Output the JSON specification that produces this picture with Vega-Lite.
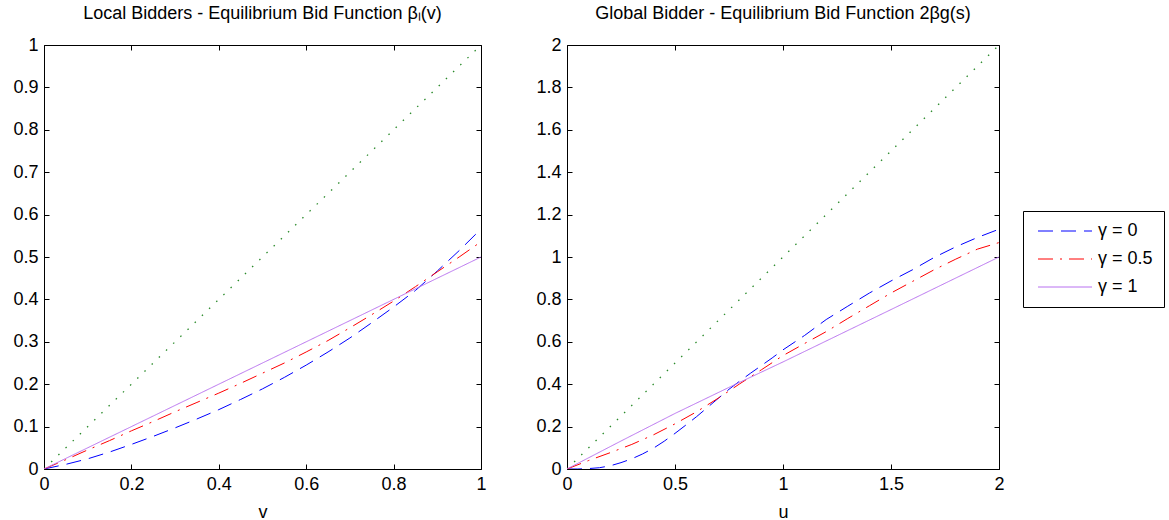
{
  "$schema": "https://vega.github.io/schema/vega-lite/v6.json",
  "padding": {"left": 12, "top": 4, "right": 5, "bottom": 0},
  "background": "#ffffff",
  "datasets": {
    "diag": [
      {"p": "L", "x": 0, "y": 0}, {"p": "L", "x": 1, "y": 1},
      {"p": "G", "x": 0, "y": 0}, {"p": "G", "x": 2, "y": 2}
    ],
    "curves": [
      {"p": "L", "s": "γ = 0", "x": 0, "y": 0},
      {"p": "L", "s": "γ = 0", "x": 0.05, "y": 0.011},
      {"p": "L", "s": "γ = 0", "x": 0.1, "y": 0.024},
      {"p": "L", "s": "γ = 0", "x": 0.15, "y": 0.04},
      {"p": "L", "s": "γ = 0", "x": 0.2, "y": 0.058},
      {"p": "L", "s": "γ = 0", "x": 0.25, "y": 0.077},
      {"p": "L", "s": "γ = 0", "x": 0.3, "y": 0.097},
      {"p": "L", "s": "γ = 0", "x": 0.35, "y": 0.118},
      {"p": "L", "s": "γ = 0", "x": 0.4, "y": 0.14},
      {"p": "L", "s": "γ = 0", "x": 0.45, "y": 0.164},
      {"p": "L", "s": "γ = 0", "x": 0.5, "y": 0.189},
      {"p": "L", "s": "γ = 0", "x": 0.55, "y": 0.216},
      {"p": "L", "s": "γ = 0", "x": 0.6, "y": 0.245},
      {"p": "L", "s": "γ = 0", "x": 0.65, "y": 0.276},
      {"p": "L", "s": "γ = 0", "x": 0.7, "y": 0.309},
      {"p": "L", "s": "γ = 0", "x": 0.75, "y": 0.345},
      {"p": "L", "s": "γ = 0", "x": 0.8, "y": 0.382},
      {"p": "L", "s": "γ = 0", "x": 0.85, "y": 0.421},
      {"p": "L", "s": "γ = 0", "x": 0.9, "y": 0.467},
      {"p": "L", "s": "γ = 0", "x": 0.95, "y": 0.515},
      {"p": "L", "s": "γ = 0", "x": 1, "y": 0.566},
      {"p": "L", "s": "γ = 0.5", "x": 0, "y": 0},
      {"p": "L", "s": "γ = 0.5", "x": 0.05, "y": 0.022},
      {"p": "L", "s": "γ = 0.5", "x": 0.1, "y": 0.045},
      {"p": "L", "s": "γ = 0.5", "x": 0.15, "y": 0.067},
      {"p": "L", "s": "γ = 0.5", "x": 0.2, "y": 0.09},
      {"p": "L", "s": "γ = 0.5", "x": 0.25, "y": 0.112},
      {"p": "L", "s": "γ = 0.5", "x": 0.3, "y": 0.135},
      {"p": "L", "s": "γ = 0.5", "x": 0.35, "y": 0.157},
      {"p": "L", "s": "γ = 0.5", "x": 0.4, "y": 0.179},
      {"p": "L", "s": "γ = 0.5", "x": 0.45, "y": 0.202},
      {"p": "L", "s": "γ = 0.5", "x": 0.5, "y": 0.226},
      {"p": "L", "s": "γ = 0.5", "x": 0.55, "y": 0.25},
      {"p": "L", "s": "γ = 0.5", "x": 0.6, "y": 0.276},
      {"p": "L", "s": "γ = 0.5", "x": 0.65, "y": 0.303},
      {"p": "L", "s": "γ = 0.5", "x": 0.7, "y": 0.333},
      {"p": "L", "s": "γ = 0.5", "x": 0.75, "y": 0.364},
      {"p": "L", "s": "γ = 0.5", "x": 0.8, "y": 0.396},
      {"p": "L", "s": "γ = 0.5", "x": 0.85, "y": 0.43},
      {"p": "L", "s": "γ = 0.5", "x": 0.9, "y": 0.465},
      {"p": "L", "s": "γ = 0.5", "x": 0.95, "y": 0.5},
      {"p": "L", "s": "γ = 0.5", "x": 1, "y": 0.536},
      {"p": "L", "s": "γ = 1", "x": 0, "y": 0},
      {"p": "L", "s": "γ = 1", "x": 0.25, "y": 0.125},
      {"p": "L", "s": "γ = 1", "x": 0.5, "y": 0.25},
      {"p": "L", "s": "γ = 1", "x": 0.75, "y": 0.375},
      {"p": "L", "s": "γ = 1", "x": 1, "y": 0.5},
      {"p": "G", "s": "γ = 0", "x": 0, "y": 0},
      {"p": "G", "s": "γ = 0", "x": 0.05, "y": 0},
      {"p": "G", "s": "γ = 0", "x": 0.1, "y": 0.002},
      {"p": "G", "s": "γ = 0", "x": 0.15, "y": 0.006},
      {"p": "G", "s": "γ = 0", "x": 0.2, "y": 0.015},
      {"p": "G", "s": "γ = 0", "x": 0.25, "y": 0.03},
      {"p": "G", "s": "γ = 0", "x": 0.3, "y": 0.048},
      {"p": "G", "s": "γ = 0", "x": 0.35, "y": 0.071},
      {"p": "G", "s": "γ = 0", "x": 0.4, "y": 0.098},
      {"p": "G", "s": "γ = 0", "x": 0.45, "y": 0.131},
      {"p": "G", "s": "γ = 0", "x": 0.5, "y": 0.168},
      {"p": "G", "s": "γ = 0", "x": 0.55, "y": 0.207},
      {"p": "G", "s": "γ = 0", "x": 0.6, "y": 0.247},
      {"p": "G", "s": "γ = 0", "x": 0.65, "y": 0.29},
      {"p": "G", "s": "γ = 0", "x": 0.7, "y": 0.333},
      {"p": "G", "s": "γ = 0", "x": 0.75, "y": 0.376},
      {"p": "G", "s": "γ = 0", "x": 0.8, "y": 0.415},
      {"p": "G", "s": "γ = 0", "x": 0.85, "y": 0.452},
      {"p": "G", "s": "γ = 0", "x": 0.9, "y": 0.488},
      {"p": "G", "s": "γ = 0", "x": 0.95, "y": 0.524},
      {"p": "G", "s": "γ = 0", "x": 1, "y": 0.562},
      {"p": "G", "s": "γ = 0", "x": 1.1, "y": 0.63},
      {"p": "G", "s": "γ = 0", "x": 1.2, "y": 0.705},
      {"p": "G", "s": "γ = 0", "x": 1.3, "y": 0.768},
      {"p": "G", "s": "γ = 0", "x": 1.4, "y": 0.83},
      {"p": "G", "s": "γ = 0", "x": 1.5, "y": 0.887},
      {"p": "G", "s": "γ = 0", "x": 1.6, "y": 0.94},
      {"p": "G", "s": "γ = 0", "x": 1.7, "y": 0.998},
      {"p": "G", "s": "γ = 0", "x": 1.8, "y": 1.048},
      {"p": "G", "s": "γ = 0", "x": 1.9, "y": 1.092},
      {"p": "G", "s": "γ = 0", "x": 2, "y": 1.131},
      {"p": "G", "s": "γ = 0.5", "x": 0, "y": 0},
      {"p": "G", "s": "γ = 0.5", "x": 0.1, "y": 0.04},
      {"p": "G", "s": "γ = 0.5", "x": 0.2, "y": 0.077},
      {"p": "G", "s": "γ = 0.5", "x": 0.3, "y": 0.116},
      {"p": "G", "s": "γ = 0.5", "x": 0.4, "y": 0.161},
      {"p": "G", "s": "γ = 0.5", "x": 0.5, "y": 0.213},
      {"p": "G", "s": "γ = 0.5", "x": 0.6, "y": 0.27},
      {"p": "G", "s": "γ = 0.5", "x": 0.7, "y": 0.334},
      {"p": "G", "s": "γ = 0.5", "x": 0.8, "y": 0.402},
      {"p": "G", "s": "γ = 0.5", "x": 0.9, "y": 0.468},
      {"p": "G", "s": "γ = 0.5", "x": 1, "y": 0.535},
      {"p": "G", "s": "γ = 0.5", "x": 1.1, "y": 0.592},
      {"p": "G", "s": "γ = 0.5", "x": 1.2, "y": 0.648},
      {"p": "G", "s": "γ = 0.5", "x": 1.3, "y": 0.71},
      {"p": "G", "s": "γ = 0.5", "x": 1.4, "y": 0.77},
      {"p": "G", "s": "γ = 0.5", "x": 1.5, "y": 0.83},
      {"p": "G", "s": "γ = 0.5", "x": 1.6, "y": 0.885},
      {"p": "G", "s": "γ = 0.5", "x": 1.7, "y": 0.94},
      {"p": "G", "s": "γ = 0.5", "x": 1.8, "y": 0.99},
      {"p": "G", "s": "γ = 0.5", "x": 1.9, "y": 1.037},
      {"p": "G", "s": "γ = 0.5", "x": 2, "y": 1.068},
      {"p": "G", "s": "γ = 1", "x": 0, "y": 0},
      {"p": "G", "s": "γ = 1", "x": 0.25, "y": 0.132},
      {"p": "G", "s": "γ = 1", "x": 0.5, "y": 0.262},
      {"p": "G", "s": "γ = 1", "x": 0.75, "y": 0.385},
      {"p": "G", "s": "γ = 1", "x": 1, "y": 0.505},
      {"p": "G", "s": "γ = 1", "x": 1.5, "y": 0.752},
      {"p": "G", "s": "γ = 1", "x": 2, "y": 1}
    ]
  },
  "spacing": 86,
  "bounds": "flush",
  "resolve": {
    "scale": {"x": "independent", "y": "independent", "color": "shared", "strokeDash": "shared"},
    "legend": {"color": "shared", "strokeDash": "shared"}
  },
  "hconcat": [
    {
      "width": 437,
      "height": 424,
      "title": {"text": "Local Bidders - Equilibrium Bid Function βₗ(v)", "baseline": "alphabetic", "offset": -1},
      "resolve": {"axis": {"x": "independent", "y": "independent"}},
      "layer": [
        {
          "data": {"name": "diag"},
          "transform": [{"filter": "datum.p === 'L'"}],
          "mark": {"type": "line", "color": "#2a8a2a", "strokeDash": [1.5, 8.5], "strokeWidth": 1.3, "clip": true},
          "encoding": {
            "x": {"field": "x", "type": "quantitative", "scale": {"domain": [0, 1], "nice": false, "zero": false},
                  "axis": {"orient": "bottom", "title": "v", "values": [0, 0.2, 0.4, 0.6, 0.8, 1], "format": "~g", "labelPadding": 11}},
            "y": {"field": "y", "type": "quantitative", "scale": {"domain": [0, 1], "nice": false, "zero": false},
                  "axis": {"orient": "left", "title": null, "values": [0, 0.1, 0.2, 0.3, 0.4, 0.5, 0.6, 0.7, 0.8, 0.9, 1], "format": "~g"}}
          }
        },
        {
          "data": {"name": "curves"},
          "transform": [{"filter": "datum.p === 'L'"}],
          "mark": {"type": "line", "strokeWidth": 1, "clip": true},
          "encoding": {
            "x": {"field": "x", "type": "quantitative", "axis": null},
            "y": {"field": "y", "type": "quantitative", "axis": null},
            "color": {"field": "s", "type": "nominal",
                      "scale": {"domain": ["γ = 0", "γ = 0.5", "γ = 1"], "range": ["#0000ff", "#ff0000", "#b870f0"]},
                      "legend": {"title": null}},
            "strokeDash": {"field": "s", "type": "nominal",
                      "scale": {"domain": ["γ = 0", "γ = 0.5", "γ = 1"], "range": [[15, 8], [15, 7, 2, 7], [1, 0]]},
                      "legend": {"title": null}}
          }
        },
        {
          "data": {"name": "diag"},
          "transform": [{"filter": "datum.p === 'L'"}],
          "mark": {"type": "line", "opacity": 0},
          "encoding": {
            "x": {"field": "x", "type": "quantitative",
                  "axis": {"orient": "top", "title": null, "labels": false, "values": [0, 0.2, 0.4, 0.6, 0.8, 1]}},
            "y": {"field": "y", "type": "quantitative",
                  "axis": {"orient": "right", "title": null, "labels": false, "values": [0, 0.1, 0.2, 0.3, 0.4, 0.5, 0.6, 0.7, 0.8, 0.9, 1]}}
          }
        }
      ]
    },
    {
      "width": 432,
      "height": 424,
      "title": {"text": "Global Bidder - Equilibrium Bid Function 2βg(s)", "baseline": "alphabetic", "offset": -1},
      "resolve": {"axis": {"x": "independent", "y": "independent"}},
      "layer": [
        {
          "data": {"name": "diag"},
          "transform": [{"filter": "datum.p === 'G'"}],
          "mark": {"type": "line", "color": "#2a8a2a", "strokeDash": [1.5, 8.5], "strokeWidth": 1.3, "clip": true},
          "encoding": {
            "x": {"field": "x", "type": "quantitative", "scale": {"domain": [0, 2], "nice": false, "zero": false},
                  "axis": {"orient": "bottom", "title": "u", "values": [0, 0.5, 1, 1.5, 2], "format": "~g", "labelPadding": 11}},
            "y": {"field": "y", "type": "quantitative", "scale": {"domain": [0, 2], "nice": false, "zero": false},
                  "axis": {"orient": "left", "title": null, "values": [0, 0.2, 0.4, 0.6, 0.8, 1, 1.2, 1.4, 1.6, 1.8, 2], "format": "~g"}}
          }
        },
        {
          "data": {"name": "curves"},
          "transform": [{"filter": "datum.p === 'G'"}],
          "mark": {"type": "line", "strokeWidth": 1, "clip": true},
          "encoding": {
            "x": {"field": "x", "type": "quantitative", "axis": null},
            "y": {"field": "y", "type": "quantitative", "axis": null},
            "color": {"field": "s", "type": "nominal",
                      "scale": {"domain": ["γ = 0", "γ = 0.5", "γ = 1"], "range": ["#0000ff", "#ff0000", "#b870f0"]},
                      "legend": {"title": null}},
            "strokeDash": {"field": "s", "type": "nominal",
                      "scale": {"domain": ["γ = 0", "γ = 0.5", "γ = 1"], "range": [[15, 8], [15, 7, 2, 7], [1, 0]]},
                      "legend": {"title": null}}
          }
        },
        {
          "data": {"name": "diag"},
          "transform": [{"filter": "datum.p === 'G'"}],
          "mark": {"type": "line", "opacity": 0},
          "encoding": {
            "x": {"field": "x", "type": "quantitative",
                  "axis": {"orient": "top", "title": null, "labels": false, "values": [0, 0.5, 1, 1.5, 2]}},
            "y": {"field": "y", "type": "quantitative",
                  "axis": {"orient": "right", "title": null, "labels": false, "values": [0, 0.2, 0.4, 0.6, 0.8, 1, 1.2, 1.4, 1.6, 1.8, 2]}}
          }
        }
      ]
    }
  ],
  "config": {
    "font": "Liberation Sans",
    "view": {"stroke": "#000000", "strokeWidth": 1},
    "axis": {
      "grid": false, "domain": false,
      "tickColor": "#000000", "tickSize": -5, "tickWidth": 1,
      "labelFont": "Liberation Sans", "labelFontSize": 18, "labelColor": "#000000", "labelPadding": 11,
      "labelFlush": false, "labelOverlap": false,
      "titleFont": "Liberation Sans", "titleFontSize": 18, "titleFontWeight": "normal", "titleColor": "#000000", "titlePadding": 10
    },
    "title": {"font": "Liberation Sans", "fontSize": 18, "fontWeight": "normal", "color": "#000000", "anchor": "middle"},
    "legend": {
      "orient": "none", "legendX": 979, "legendY": 166,
      "strokeColor": "#000000", "padding": 11, "fillColor": "#ffffff",
      "symbolType": "M-1,0H9.8", "symbolSize": 100, "symbolStrokeWidth": 1,
      "labelFont": "Liberation Sans", "labelFontSize": 18, "labelColor": "#000000", "labelOffset": 46,
      "rowPadding": 10
    }
  }
}
